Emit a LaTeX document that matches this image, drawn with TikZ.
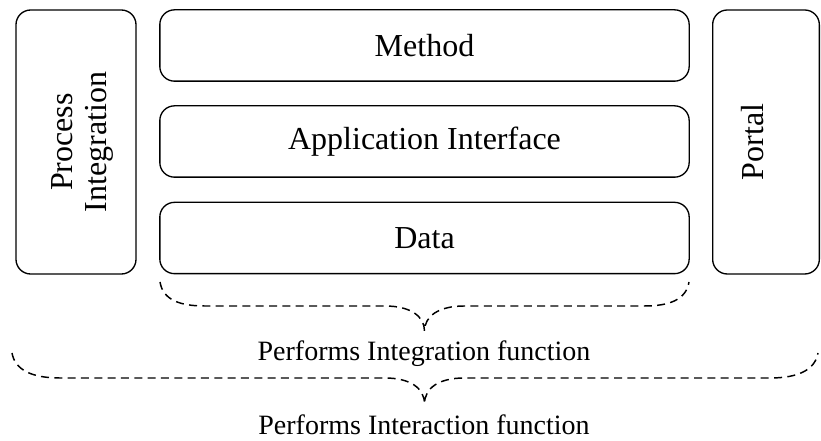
\documentclass[tikz,border=0pt]{standalone}
\usepackage{fontspec}
\setmainfont{Liberation Serif}
\begin{document}
\begin{tikzpicture}[x=0.75pt, y=-0.75pt,
  layer/.style={draw, line width=1pt, rounded corners=11pt, inner sep=0pt,
    font=\fontsize{24}{26}\selectfont},
  vlabel/.style={rotate=90, anchor=base, inner sep=0pt, font=\fontsize{24}{26}\selectfont},
  brace/.style={draw, line width=1.1pt, dash pattern=on 6pt off 4pt},
  caption/.style={font=\fontsize{21}{24}\selectfont, inner sep=0pt}]
\useasboundingbox (0,0) rectangle (821,441);

% side columns
\node[layer, minimum width=90pt, minimum height=198pt] (proc) at (76,142) {};
\node[vlabel] (proc1) at (72,142) {Process};
\node[vlabel] (proc2) at (106,142) {Integration};
\node[layer, minimum width=80pt, minimum height=198pt] (portal) at (766,142) {};
\node[vlabel] (portaltext) at (763,142) {Portal};

% stacked layers
\node[layer, minimum width=397pt, minimum height=53.5pt] (method) at (424.5,45.5) {Method};
\node[layer, minimum width=397pt, minimum height=53.5pt] (api) at (424.5,141.5) {Application Interface};
\node[layer, minimum width=397pt, minimum height=53.5pt] (data) at (424.5,238) {Data};

% inner brace: integration
\coordinate (b1l) at (160,282);
\coordinate (b1r) at (689,282);
\coordinate (b1t) at (424.5,331);
\path[brace] (b1l) .. controls (163,300) and (180,306) .. (205,306)
  -- (385,306) .. controls (410,306) and (424.5,316) .. (b1t)
  .. controls (424.5,316) and (439,306) .. (464,306)
  -- (644,306) .. controls (669,306) and (686,300) .. (b1r);
\node[caption] (integ) at (424,354) {Performs Integration function};

% outer brace: interaction
\coordinate (b2l) at (12,353);
\coordinate (b2r) at (818,353);
\coordinate (b2t) at (424.5,404);
\path[brace] (b2l) .. controls (15,370) and (32,378) .. (60,378)
  -- (385,378) .. controls (410,378) and (424.5,388) .. (b2t)
  .. controls (424.5,388) and (439,378) .. (464,378)
  -- (770,378) .. controls (798,378) and (815,370) .. (b2r);
\node[caption] (inter) at (424,425) {Performs Interaction function};
\end{tikzpicture}
\end{document}
